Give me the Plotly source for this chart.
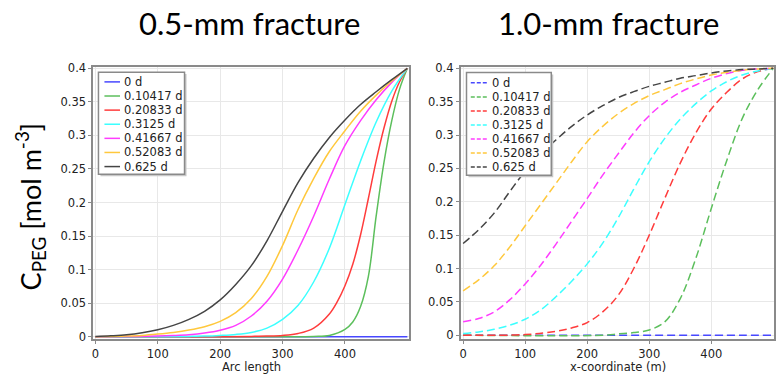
import plotly.graph_objects as go

# ---------------- data ----------------
series_names = ["0 d", "0.10417 d", "0.20833 d", "0.3125 d", "0.41667 d", "0.52083 d", "0.625 d"]
series_colors = ["#4848ff", "#5cbf5c", "#ff3c3c", "#3cffff", "#ff3cff", "#ffc83c", "#454545"]

x_tick_vals = [0, 100, 200, 300, 400]
y_tick_vals = [0, 0.05, 0.1, 0.15, 0.2, 0.25, 0.3, 0.35, 0.4]
y_tick_text = ["0", "0.05", "0.1", "0.15", "0.2", "0.25", "0.3", "0.35", "0.4"]

# 0.5-mm fracture (Arc length)
a_x0 = [0, 100, 200, 300, 400, 500]
a_y0 = [0, 0, 0, 0, 0, 0]
a_x1 = [0, 300, 350, 375, 400, 412.5, 425, 437.5, 450, 462.5, 475, 487.5, 500]
a_y1 = [0, 0, 0.0005, 0.002, 0.011, 0.022, 0.045, 0.09, 0.18, 0.26, 0.322, 0.369, 0.4]
a_x2 = [0, 200, 250, 275, 300, 325, 350, 375, 387.5, 400, 412.5, 425, 437.5, 450, 462.5, 475, 487.5, 500]
a_y2 = [0, 0.0002, 0.0006, 0.001, 0.002, 0.005, 0.013, 0.034, 0.052, 0.076, 0.108, 0.152, 0.206, 0.262, 0.311, 0.351, 0.38, 0.4]
a_x3 = [0, 100, 150, 175, 200, 225, 250, 275, 300, 325, 350, 375, 400, 425, 450, 475, 500]
a_y3 = [0, 0.0002, 0.0006, 0.001, 0.002, 0.0035, 0.0065, 0.013, 0.026, 0.047, 0.082, 0.132, 0.197, 0.262, 0.32, 0.366, 0.4]
a_x4 = [0, 50, 100, 125, 150, 175, 200, 225, 250, 275, 300, 325, 350, 375, 400, 425, 450, 475, 500]
a_y4 = [0, 0.0003, 0.001, 0.0018, 0.003, 0.0055, 0.0097, 0.017, 0.031, 0.053, 0.086, 0.13, 0.18, 0.235, 0.285, 0.322, 0.353, 0.379, 0.4]
a_x5 = [0, 25, 50, 75, 100, 125, 150, 175, 200, 225, 250, 275, 300, 325, 350, 375, 400, 425, 450, 475, 500]
a_y5 = [0.0002, 0.0005, 0.001, 0.002, 0.004, 0.0065, 0.01, 0.015, 0.023, 0.036, 0.057, 0.09, 0.136, 0.19, 0.236, 0.276, 0.307, 0.336, 0.36, 0.381, 0.4]
a_x6 = [0, 25, 50, 75, 100, 125, 150, 175, 200, 225, 250, 275, 300, 325, 350, 375, 400, 425, 450, 475, 500]
a_y6 = [0.0005, 0.0015, 0.003, 0.006, 0.0105, 0.017, 0.026, 0.038, 0.055, 0.078, 0.106, 0.143, 0.187, 0.23, 0.266, 0.297, 0.323, 0.346, 0.365, 0.383, 0.4]

# 1.0-mm fracture (x-coordinate)
b_x0 = [0, 100, 200, 300, 400, 500]
b_y0 = [0, 0, 0, 0, 0, 0]
b_x1 = [0, 225, 250, 275, 300, 325, 350, 375, 400, 425, 450, 475, 500]
b_y1 = [0, 0, 0.002, 0.004, 0.008, 0.02, 0.055, 0.115, 0.19, 0.262, 0.325, 0.368, 0.4]
b_x2 = [0, 100, 150, 175, 200, 225, 250, 275, 300, 325, 350, 375, 400, 425, 450, 475, 500]
b_y2 = [0, 0.001, 0.006, 0.011, 0.019, 0.035, 0.06, 0.1, 0.15, 0.205, 0.258, 0.303, 0.339, 0.364, 0.384, 0.395, 0.4]
b_x3 = [0, 25, 50, 75, 100, 125, 150, 175, 200, 225, 250, 275, 300, 325, 350, 375, 400, 425, 450, 475, 500]
b_y3 = [0.0025, 0.005, 0.009, 0.015, 0.024, 0.038, 0.058, 0.081, 0.107, 0.138, 0.176, 0.219, 0.26, 0.295, 0.324, 0.347, 0.366, 0.38, 0.39, 0.396, 0.4]
b_x4 = [0, 25, 50, 75, 100, 125, 150, 175, 200, 225, 250, 275, 300, 325, 350, 375, 400, 425, 450, 475, 500]
b_y4 = [0.0204, 0.025, 0.035, 0.053, 0.077, 0.105, 0.137, 0.171, 0.205, 0.24, 0.272, 0.303, 0.329, 0.349, 0.364, 0.375, 0.385, 0.392, 0.397, 0.399, 0.4]
b_x5 = [0, 25, 50, 75, 100, 125, 150, 175, 200, 225, 250, 275, 300, 325, 350, 375, 400, 425, 450, 475, 500]
b_y5 = [0.0666, 0.083, 0.104, 0.132, 0.164, 0.196, 0.228, 0.26, 0.29, 0.313, 0.332, 0.347, 0.359, 0.368, 0.377, 0.384, 0.39, 0.394, 0.397, 0.399, 0.4]
b_x6 = [0, 25, 50, 75, 100, 125, 150, 175, 200, 225, 250, 275, 300, 325, 350, 375, 400, 425, 450, 475, 500]
b_y6 = [0.1375, 0.158, 0.183, 0.215, 0.246, 0.272, 0.293, 0.313, 0.33, 0.344, 0.356, 0.365, 0.373, 0.379, 0.385, 0.389, 0.393, 0.396, 0.398, 0.399, 0.4]

panel_a = [(a_x0, a_y0), (a_x1, a_y1), (a_x2, a_y2), (a_x3, a_y3), (a_x4, a_y4), (a_x5, a_y5), (a_x6, a_y6)]
panel_b = [(b_x0, b_y0), (b_x1, b_y1), (b_x2, b_y2), (b_x3, b_y3), (b_x4, b_y4), (b_x5, b_y5), (b_x6, b_y6)]

title_a = "0.5-mm fracture"
title_b = "1.0-mm fracture"
xlabel_a = "Arc length"
xlabel_b = "x-coordinate (m)"
ylabel = "C<sub>PEG</sub> [mol m<sup>-3</sup>]"

# ---------------- layout helpers ----------------
W, H = 778, 375
def px(v):
    return v / W
def py(v):
    return 1 - v / H

TICK_FONT = dict(family="DejaVu Sans", size=11.5, color="#222222")
DASH = "8px,4px"

fig = go.Figure()
for i, (xs, ys) in enumerate(panel_a):
    fig.add_trace(go.Scatter(x=xs, y=ys, mode="lines", name=series_names[i],
                             line=dict(color=series_colors[i], width=1.5, shape="spline", smoothing=1.0),
                             xaxis="x", yaxis="y", showlegend=False))
for i, (xs, ys) in enumerate(panel_b):
    fig.add_trace(go.Scatter(x=xs, y=ys, mode="lines", name=series_names[i],
                             line=dict(color=series_colors[i], width=1.5, shape="spline", smoothing=1.0, dash=DASH),
                             xaxis="x2", yaxis="y2", showlegend=False))

ydom = [py(343.3), py(63.3)]
axis_common = dict(showgrid=True, gridcolor="#e8e8e8", gridwidth=1, zeroline=False,
                   showline=True, linecolor="#8a8a8a", linewidth=2, mirror=True,
                   ticks="outside", ticklen=3, tickcolor="#8a8a8a", tickfont=TICK_FONT)

fig.update_layout(
    width=W, height=H, margin=dict(l=0, r=0, t=0, b=0),
    paper_bgcolor="white", plot_bgcolor="white", showlegend=False,
    xaxis=dict(domain=[px(91.7), px(408.3)], range=[-3, 503], tickvals=x_tick_vals, anchor="y", **axis_common),
    yaxis=dict(domain=ydom, range=[-0.0035, 0.4025], tickvals=y_tick_vals, ticktext=y_tick_text, anchor="x", **axis_common),
    xaxis2=dict(domain=[px(460), px(774)], range=[-3.7, 501.1], tickvals=x_tick_vals, anchor="y2", **axis_common),
    yaxis2=dict(domain=ydom, range=[-0.0058, 0.4025], tickvals=y_tick_vals, ticktext=y_tick_text, anchor="x2", **axis_common),
)

shapes = []
annotations = []

# legends drawn manually (compact COMSOL-style)
def add_legend(x0, y0, x1, y1, sx0, sx1, tx, ty0, step, dash):
    shapes.append(dict(type="rect", xref="paper", yref="paper", x0=px(x0 + 2), x1=px(x1 + 2), y0=py(y1 + 2), y1=py(y0 + 2),
                       fillcolor="#c8c8c8", line=dict(width=0), layer="above"))
    shapes.append(dict(type="rect", xref="paper", yref="paper", x0=px(x0), x1=px(x1), y0=py(y1), y1=py(y0),
                       fillcolor="white", line=dict(color="#8a8a8a", width=1.5), layer="above"))
    for i, name in enumerate(series_names):
        yy = ty0 + i * step
        shapes.append(dict(type="line", xref="paper", yref="paper", x0=px(sx0), x1=px(sx1), y0=py(yy), y1=py(yy),
                           line=dict(color=series_colors[i], width=1.5, dash=dash), layer="above"))
        annotations.append(dict(xref="paper", yref="paper", x=px(tx), y=py(yy), text=name, showarrow=False,
                                xanchor="left", yanchor="middle", font=dict(family="DejaVu Sans", size=11.5, color="#222222")))

add_legend(96.7, 69, 183, 174, 102.7, 118.3, 120, 79, 14.5, "solid")
add_legend(465.7, 69.3, 550.7, 175, 470, 487, 489, 80, 14.4, "4px,2px")

# titles
TITLE_FONT = dict(family="Lato", size=31, color="black")
annotations.append(dict(xref="paper", yref="paper", x=px(248), y=py(19), text=title_a, showarrow=False,
                        xanchor="center", yanchor="middle", font=TITLE_FONT))
annotations.append(dict(xref="paper", yref="paper", x=px(608), y=py(19), text=title_b, showarrow=False,
                        xanchor="center", yanchor="middle", font=TITLE_FONT))
annotations.append(dict(xref="paper", yref="paper", x=px(29), y=py(207), text=ylabel, showarrow=False, textangle=-90,
                        xanchor="center", yanchor="middle", font=dict(family="Lato", size=27, color="black")))
annotations.append(dict(xref="paper", yref="paper", x=px(250), y=py(369), text=xlabel_a, showarrow=False,
                        xanchor="center", yanchor="middle", yshift=-3, font=TICK_FONT))
annotations.append(dict(xref="paper", yref="paper", x=px(618), y=py(369), text=xlabel_b, showarrow=False,
                        xanchor="center", yanchor="middle", yshift=-3, font=TICK_FONT))

fig.update_layout(shapes=shapes, annotations=annotations)
fig.write_html("out.html", config={"displayModeBar": False},
               post_script="document.body.style.margin='0';document.body.style.overflow='hidden';")
